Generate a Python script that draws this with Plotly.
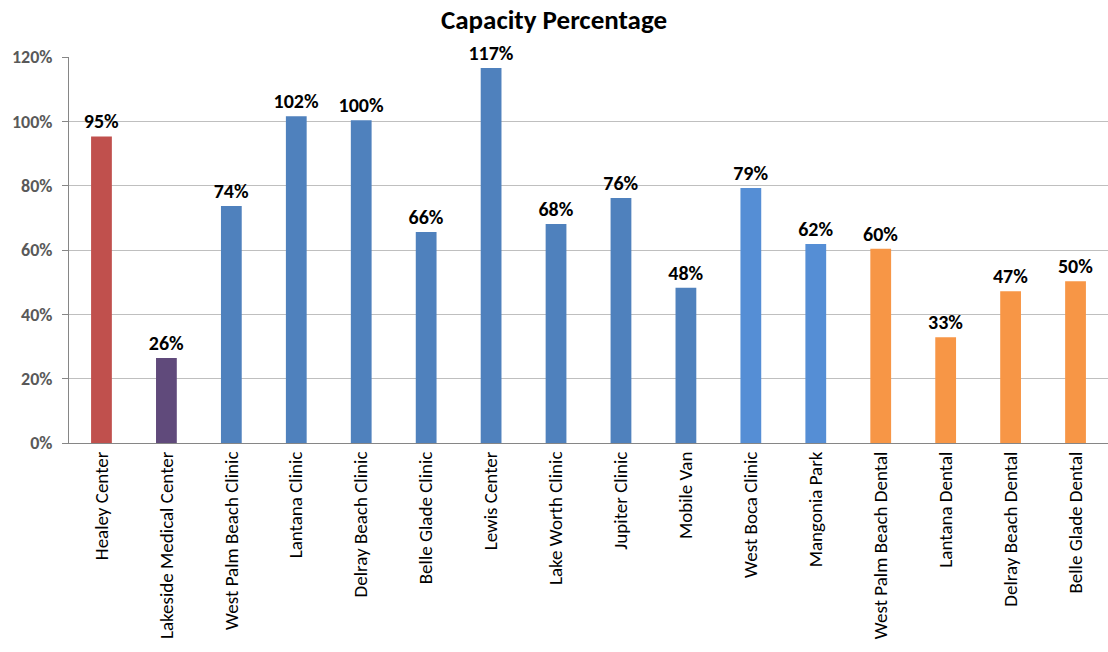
import plotly.graph_objects as go

categories = ["Healey Center", "Lakeside Medical Center", "West Palm Beach Clinic", "Lantana Clinic",
              "Delray Beach Clinic", "Belle Glade Clinic", "Lewis Center", "Lake Worth Clinic",
              "Jupiter Clinic", "Mobile Van", "West Boca Clinic", "Mangonia Park",
              "West Palm Beach Dental", "Lantana Dental", "Delray Beach Dental", "Belle Glade Dental"]
values = [95.3, 26.4, 73.7, 101.6, 100.3, 65.6, 116.6, 68.1, 76.2, 48.3, 79.3, 61.9, 60.4, 32.9, 47.2, 50.3]
bar_colors = ["#C0504D", "#604A7B"] + ["#4F81BD"] * 8 + ["#558ED5"] * 2 + ["#F79646"] * 4
y_ticks = [0, 20, 40, 60, 80, 100, 120]

FONT = "Carlito, Calibri, Lato, sans-serif"

fig = go.Figure(go.Bar(
    x=categories, y=values,
    marker=dict(color=bar_colors, line=dict(width=0)),
    text=[f"{round(v)}%" for v in values],
    textposition="outside",
    constraintext="none",
    textfont=dict(family=FONT, size=20, color="black", weight="bold"),
    cliponaxis=False,
))

fig.update_layout(
    width=1108, height=652,
    margin=dict(l=69, r=0, t=57, b=209),
    paper_bgcolor="white", plot_bgcolor="white",
    bargap=0.68,
    showlegend=False,
    title=dict(text="<b>Capacity Percentage</b>", x=0.5, xanchor="center", y=0.97, yanchor="middle",
               font=dict(family=FONT, size=27, color="black")),
    xaxis=dict(tickangle=-90, tickfont=dict(family=FONT, size=19, color="black"),
               showline=True, linecolor="#868686", linewidth=1, ticks="", showgrid=False),
    yaxis=dict(range=[0, 120], tickvals=y_ticks, ticktext=[f"<b>{t}%</b>" for t in y_ticks],
               tickfont=dict(family=FONT, size=18, color="#595959"),
               showline=True, linecolor="#868686", linewidth=1,
               ticks="outside", ticklen=6, tickcolor="#868686", ticklabelstandoff=6,
               showgrid=True, gridcolor="#BFBFBF", gridwidth=1, zeroline=False),
)

fig.write_html("out.html")
